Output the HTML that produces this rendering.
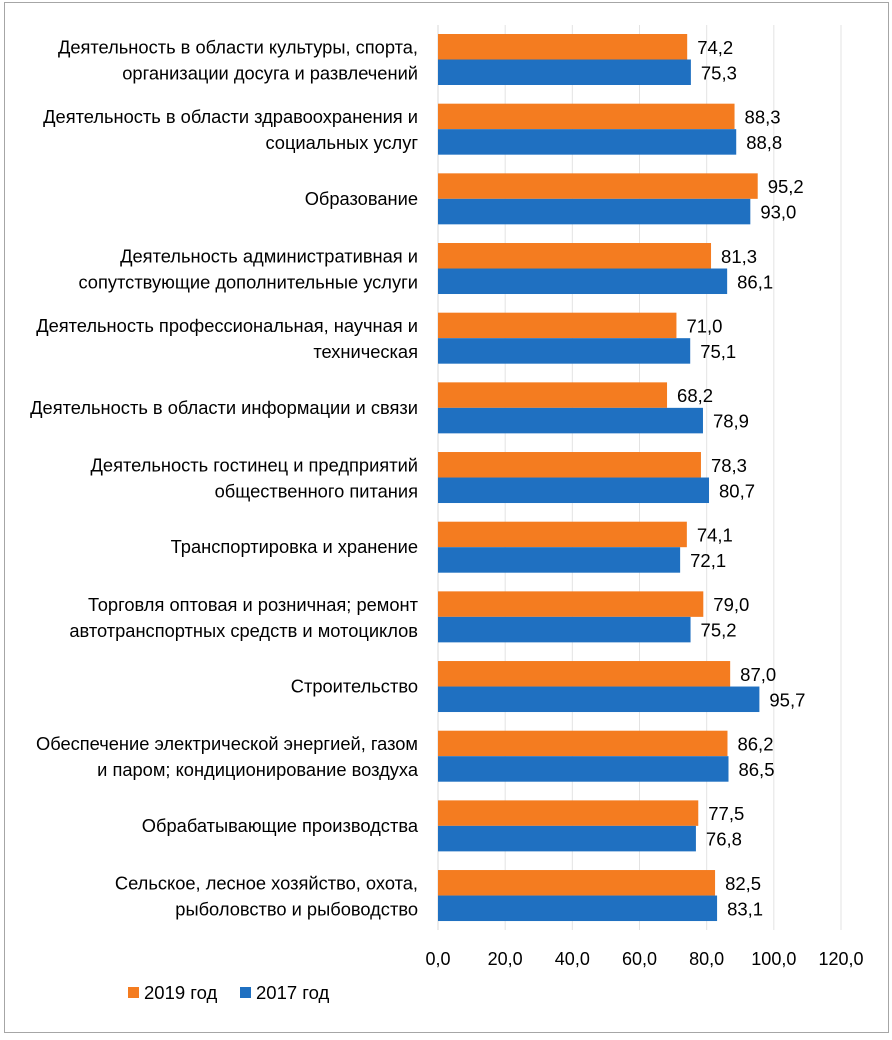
<!DOCTYPE html>
<html><head><meta charset="utf-8"><style>
html,body{margin:0;padding:0;background:#fff}
svg{display:block;font-family:"Liberation Sans","DejaVu Sans",sans-serif}
</style></head><body>
<svg id="chart" width="892" height="1040">
<rect x="4.5" y="2.5" width="884" height="1030" fill="#fff" stroke="#a6a6a6"/>
<g id="grid"></g><g id="bars"></g><g id="labels"></g><g id="ticks"></g>
<g>
<rect x="128" y="987" width="11" height="11" fill="#f47c20"/>
<text x="144" y="999" font-size="18.5" fill="#000">2019 год</text>
<rect x="240" y="987" width="11" height="11" fill="#1f70c1"/>
<text x="256" y="999" font-size="18.5" fill="#000">2017 год</text>
</g>
</svg>
<script>
const categories = [
 ["Деятельность в области культуры, спорта,","организации досуга и развлечений"],
 ["Деятельность в области здравоохранения и","социальных услуг"],
 ["Образование"],
 ["Деятельность административная и","сопутствующие дополнительные услуги"],
 ["Деятельность профессиональная, научная и","техническая"],
 ["Деятельность в области информации и связи"],
 ["Деятельность гостинец и предприятий","общественного питания"],
 ["Транспортировка и хранение"],
 ["Торговля оптовая и розничная; ремонт","автотранспортных средств и мотоциклов"],
 ["Строительство"],
 ["Обеспечение электрической энергией, газом","и паром; кондиционирование воздуха"],
 ["Обрабатывающие производства"],
 ["Сельское, лесное хозяйство, охота,","рыболовство и рыбоводство"]
];
const values2019 = [74.2,88.3,95.2,81.3,71.0,68.2,78.3,74.1,79.0,87.0,86.2,77.5,82.5];
const values2017 = [75.3,88.8,93.0,86.1,75.1,78.9,80.7,72.1,75.2,95.7,86.5,76.8,83.1];
const ticks = [0,20,40,60,80,100,120];

const NS="http://www.w3.org/2000/svg";
const x0=438, x1=841, xmax=120;
const xs=v=>x0+(v/xmax)*(x1-x0);
const top0=34, pitch=69.67, bh=25.5;
const ys=i=>top0+i*pitch;
function mk(tag,attrs,parent){const e=document.createElementNS(NS,tag);for(const k in attrs)e.setAttribute(k,attrs[k]);parent.appendChild(e);return e;}
const grid=document.getElementById('grid'),bars=document.getElementById('bars'),labels=document.getElementById('labels'),tk=document.getElementById('ticks');
const fmt=v=>v.toFixed(1).replace('.',',');
ticks.forEach(t=>{
 const l=mk('line',{x1:xs(t),x2:xs(t),y1:25,y2:930,stroke:t===0?'#d9d9d9':'#e3e3e3','stroke-width':1},grid);
 
 
 const tx=mk('text',{x:xs(t),y:965,'font-size':18,'text-anchor':'middle',fill:'#000'},tk);
 tx.textContent=fmt(t);
 
 
});
categories.forEach((c,i)=>{
 const y=ys(i);
 const b1=mk('rect',{x:x0,y:y,width:xs(values2019[i])-x0,height:bh,fill:'#f47c20'},bars);
 
 
 const b2=mk('rect',{x:x0,y:y+bh,width:xs(values2017[i])-x0,height:bh,fill:'#1f70c1'},bars);
 
 
 const v1=mk('text',{x:xs(values2019[i])+10,y:y+bh/2+7,'font-size':18.5,fill:'#000'},labels);
 v1.textContent=fmt(values2019[i]);
 
 
 const v2=mk('text',{x:xs(values2017[i])+10,y:y+bh*1.5+7,'font-size':18.5,fill:'#000'},labels);
 v2.textContent=fmt(values2017[i]);
 
 
 const cy=y+bh;
 c.forEach((line,j)=>{
  const off=c.length===1?6:(j===0?-6:20);
  const t=mk('text',{x:418,y:cy+off,'font-size':18.3,'text-anchor':'end',fill:'#000'},labels);
  t.textContent=line;
  
  
 });
});
</script>
</body></html>
